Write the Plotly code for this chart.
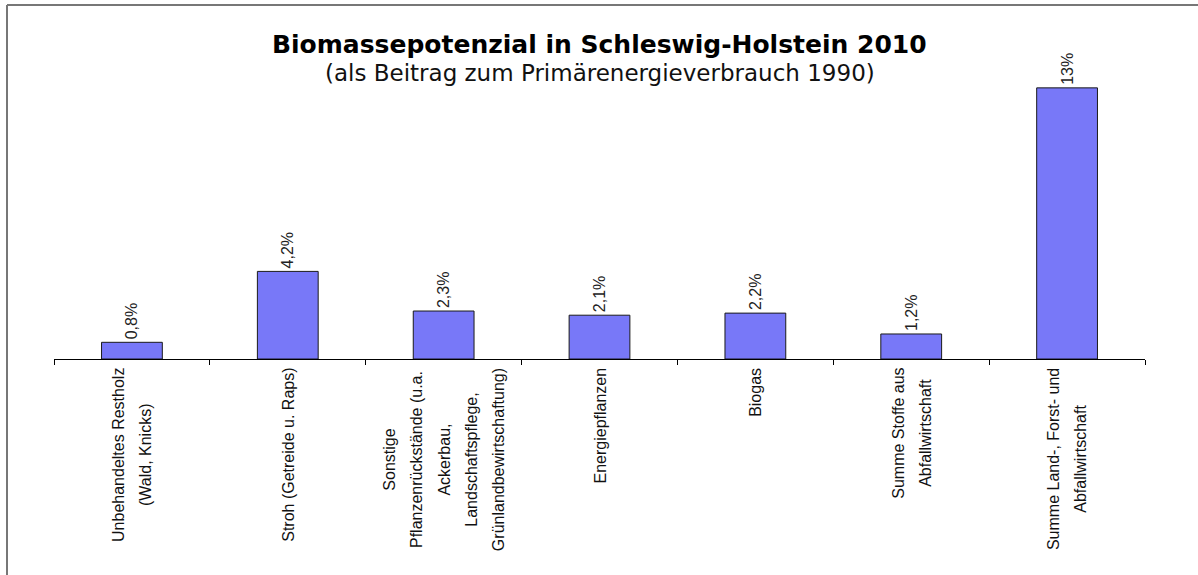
import plotly.graph_objects as go

# ---- data ----
categories = [
    "Unbehandeltes Restholz<br>(Wald, Knicks)",
    "Stroh (Getreide u. Raps)",
    "Sonstige<br>Pflanzenrückstände (u.a.<br>Ackerbau,<br>Landschaftspflege,<br>Grünlandbewirtschaftung)",
    "Energiepflanzen",
    "Biogas",
    "Summe Stoffe aus<br>Abfallwirtschaft",
    "Summe Land-, Forst- und<br>Abfallwirtschaft",
]
values = [0.8, 4.2, 2.3, 2.1, 2.2, 1.2, 13.0]
value_labels = ["0,8%", "4,2%", "2,3%", "2,1%", "2,2%", "1,2%", "13%"]

title_text = "Biomassepotenzial in Schleswig-Holstein 2010"
subtitle_text = "(als Beitrag zum Primärenergieverbrauch 1990)"

# ---- layout geometry (pixels) ----
W, H = 1198, 575
L, R, T, B = 54, 53, 67, 216
PW, PH = W - L - R, H - T - B

def px_x(x):
    return (x - L) / PW

def px_y(y):
    return (H - B - y) / PH

fig = go.Figure()
fig.add_trace(go.Bar(
    x=categories,
    y=values,
    text=value_labels,
    textposition="outside",
    textangle=-90,
    constraintext="none",
    cliponaxis=False,
    textfont=dict(family="Liberation Sans, Arial", size=16, color="#222222"),
    marker=dict(color="#7878F8", line=dict(color="#1a1a1a", width=1)),
    hoverinfo="skip",
))

annotations = []
for cat in categories:
    lines = cat.split("<br>")
    txt = "<br>".join(f"<span style='font-size:16px'>{ln}</span>" for ln in lines)
    annotations.append(dict(
        x=cat, xref="x", y=0, yref="paper",
        yanchor="top", xanchor="center", yshift=-7,
        text=txt, textangle=-90, align="center", showarrow=False,
        font=dict(family="Liberation Sans, Arial", size=21, color="#111111"),
    ))

annotations.append(dict(
    x=0.5, xref="paper", y=px_y(45), yref="paper", yanchor="middle", xanchor="center",
    text=f"<b>{title_text}</b>", showarrow=False,
    font=dict(family="DejaVu Sans", size=25, color="#000000"),
))
annotations.append(dict(
    x=0.5, xref="paper", y=px_y(73), yref="paper", yanchor="middle", xanchor="center",
    text=subtitle_text, showarrow=False,
    font=dict(family="DejaVu Sans", size=23, color="#111111"),
))

shapes = [
    dict(type="line", xref="paper", yref="paper",
         x0=px_x(7), x1=px_x(1198), y0=px_y(5), y1=px_y(5),
         line=dict(color="#777777", width=2)),
    dict(type="line", xref="paper", yref="paper",
         x0=px_x(7), x1=px_x(7), y0=px_y(5), y1=px_y(575),
         line=dict(color="#777777", width=2)),
]

fig.update_layout(
    width=W, height=H,
    margin=dict(l=L, r=R, t=T, b=B, autoexpand=False),
    paper_bgcolor="white", plot_bgcolor="white",
    showlegend=False,
    bargap=0.61,
    annotations=annotations,
    shapes=shapes,
    xaxis=dict(
        showticklabels=False, ticks="outside", tickson="boundaries",
        ticklen=5, tickcolor="#000000", tickwidth=1,
        showline=True, linecolor="#000000", linewidth=1,
        showgrid=False, zeroline=False, fixedrange=True,
    ),
    yaxis=dict(visible=False, range=[0, 14], fixedrange=True),
)

fig.write_html(
    "out.html",
    config={"displayModeBar": False, "staticPlot": True},
    post_script="document.body.style.margin='0';document.body.style.overflow='hidden';",
)
